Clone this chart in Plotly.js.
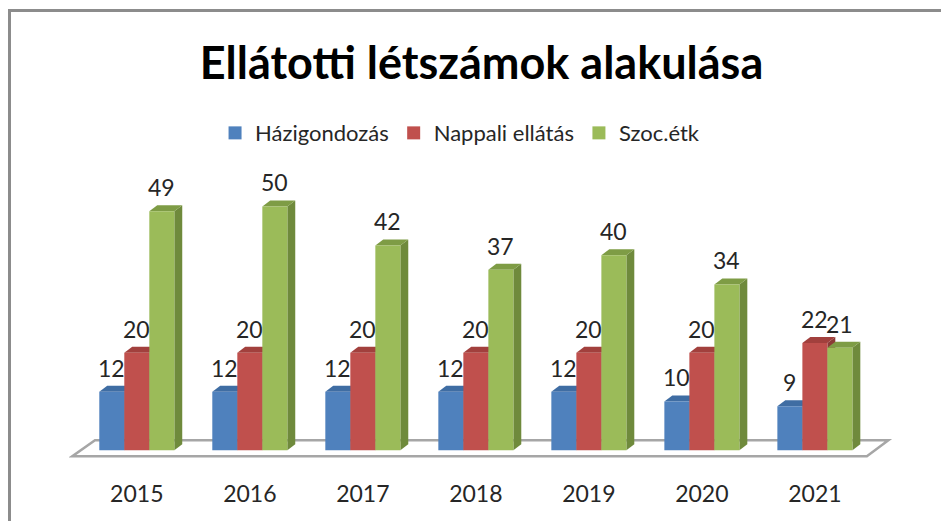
<!DOCTYPE html>
<html>
<head>
<meta charset="utf-8">
<script src="https://cdn.plot.ly/plotly-3.0.1.min.js"></script>
<style>
  html, body { margin: 0; padding: 0; background: #ffffff; }
  #wrap { position: relative; width: 941px; height: 521px; overflow: hidden; }
  #frame { position: absolute; left: 8px; top: 9px; width: 960px; height: 560px;
           border-top: 3px solid #8c8c8c; border-left: 3px solid #8c8c8c; box-sizing: border-box; }
  #chart { position: absolute; left: 0; top: 0; width: 941px; height: 521px; }
</style>
</head>
<body>
<div id="wrap">
  <div id="frame"></div>
  <div id="chart"></div>
</div>
<script>
// ---- data ----
const years = ['2015', '2016', '2017', '2018', '2019', '2020', '2021'];
const seriesNames = ['Házigondozás', 'Nappali ellátás', 'Szoc.étk'];
const hazigondozas = [12, 12, 12, 12, 12, 10, 9];
const nappali = [20, 20, 20, 20, 20, 20, 22];
const szocetk = [49, 50, 42, 37, 40, 34, 21];

// ---- style ----
const frontColors = ['#4F81BD', '#C0504D', '#9BBB59'];
const sideColors = ['#385D8A', '#8C3A37', '#6F8A3C'];
const topColors = ['#3F6DA3', '#A2403D', '#7E9C45'];
const FONT = 'Lato, "Open Sans", sans-serif';
const bargap = 0.336;
const dx = 0.07;   // depth, x units
const dy = 1.23;   // depth, y units

const seriesValues = [hazigondozas, nappali, szocetk];
const xIdx = years.map((_, i) => i);
const w = (1 - bargap) / 3;

const traces = seriesValues.map((vals, k) => ({
  type: 'bar',
  name: seriesNames[k],
  x: xIdx,
  y: vals,
  showlegend: false,
  marker: { color: frontColors[k], line: { width: 0 } },
  hoverinfo: 'skip'
}));
// legend entries (square swatches)
seriesNames.forEach((nm, k) => {
  traces.push({
    type: 'scatter', mode: 'markers', name: nm,
    x: [null], y: [null],
    marker: { symbol: 'square', size: 13, color: frontColors[k] },
    hoverinfo: 'skip'
  });
});

const shapes = [];
// floor
shapes.push({
  type: 'path', xref: 'x', yref: 'y', layer: 'below',
  path: 'M -0.57,-1.23 L 6.46,-1.23 L 6.65,2.05 L -0.37,2.05 Z',
  fillcolor: '#ffffff', line: { color: '#a6a6a6', width: 2.5 }
});

const annotations = [];
years.forEach((yr, i) => {
  seriesValues.forEach((vals, k) => {
    const v = vals[i];
    const xl = i - (1 - bargap) / 2 + w * k;
    const xr = xl + w;
    // side face
    shapes.push({
      type: 'path', xref: 'x', yref: 'y', layer: 'below',
      path: `M ${xr},0 L ${xr + dx},${dy} L ${xr + dx},${v + dy} L ${xr},${v} Z`,
      fillcolor: sideColors[k], line: { width: 0 }
    });
    // top face
    shapes.push({
      type: 'path', xref: 'x', yref: 'y', layer: 'below',
      path: `M ${xl},${v} L ${xr},${v} L ${xr + dx},${v + dy} L ${xl + dx},${v + dy} Z`,
      fillcolor: topColors[k], line: { width: 0 }
    });
    annotations.push({
      xref: 'x', yref: 'y', x: xl + w / 2, y: v, yshift: 24,
      text: String(v), showarrow: false, yanchor: 'middle', xanchor: 'center',
      font: { family: FONT, size: 23, color: '#262626' }
    });
  });
});

const layout = {
  width: 941, height: 521,
  margin: { l: 69, r: 47, t: 182, b: 61, pad: 0 },
  paper_bgcolor: 'rgba(0,0,0,0)',
  plot_bgcolor: 'rgba(0,0,0,0)',
  barmode: 'group',
  bargap: bargap,
  bargroupgap: 0,
  title: {
    text: 'Ellátotti létszámok alakulása',
    font: { family: FONT, size: 45, color: '#000000', weight: 'bold' },
    x: 0.5, xref: 'paper', xanchor: 'center',
    y: 1 - 63 / 521, yref: 'container', yanchor: 'middle'
  },
  showlegend: true,
  legend: {
    orientation: 'h', x: 0.474, xanchor: 'center', y: 1.176, yanchor: 'middle',
    font: { family: FONT, size: 22, color: '#262626' },
    traceorder: 'normal', itemwidth: 30
  },
  xaxis: {
    type: 'linear', range: [-0.6, 6.7],
    tickvals: xIdx, ticktext: years,
    showgrid: false, zeroline: false, showline: false, ticks: '',
    ticklabelstandoff: 18,
    tickfont: { family: FONT, size: 23, color: '#262626' },
    fixedrange: true
  },
  yaxis: {
    range: [-2, 55], visible: false, showgrid: false, zeroline: false, fixedrange: true
  },
  shapes: shapes,
  annotations: annotations
};

Plotly.newPlot('chart', traces, layout, { displayModeBar: false, staticPlot: true });
</script>
</body>
</html>
